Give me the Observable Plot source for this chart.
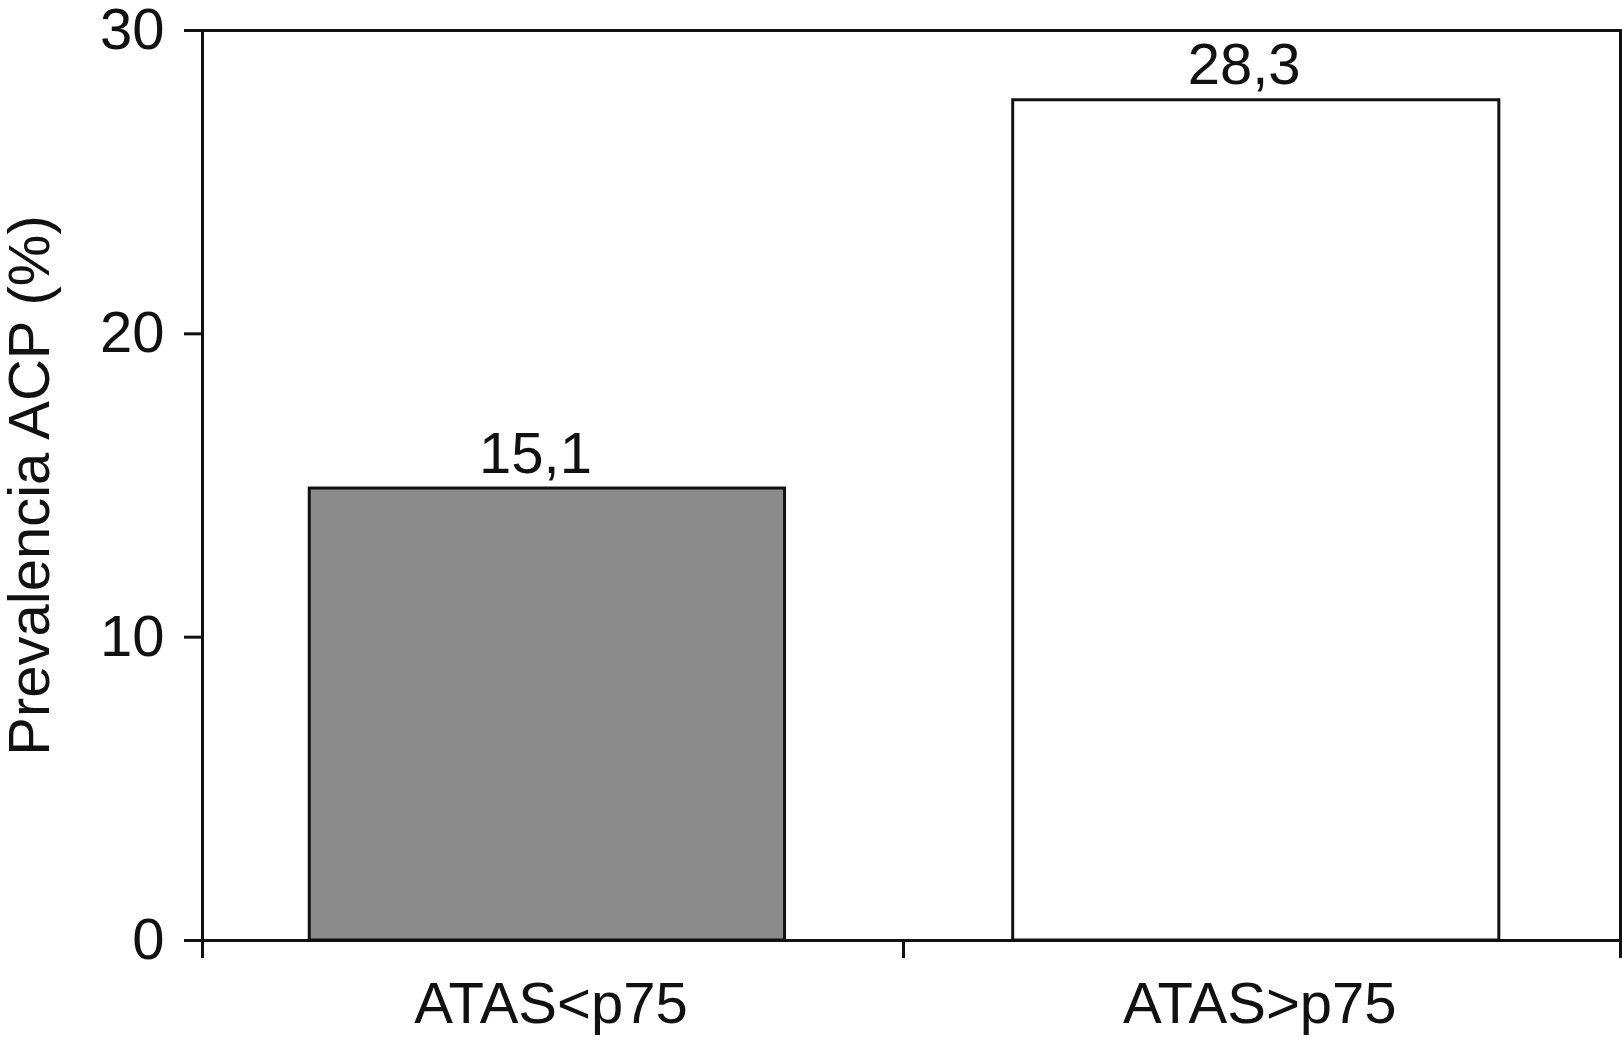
<!DOCTYPE html>
<html>
<head>
<meta charset="utf-8">
<script src="https://cdn.jsdelivr.net/npm/d3@7"></script>
<script src="https://cdn.jsdelivr.net/npm/@observablehq/plot@0.6"></script>
<style>
  html, body { margin: 0; padding: 0; background: #fff; }
  #chart svg { display: block; }
</style>
</head>
<body>
<div id="chart"></div>
<script>
// Data
const categories = ["ATAS<p75", "ATAS>p75"];
const barHeights = [14.9, 27.7];        // bar tops as drawn
const valueLabels = ["15,1", "28,3"];   // printed value labels
const barFills = ["#8b8b8b", "#ffffff"];
const yTicks = [0, 10, 20, 30];
const yLabel = "Prevalencia ACP (%)";

const data = categories.map((c, i) => ({
  cat: c, i, h: barHeights[i], label: valueLabels[i], fill: barFills[i]
}));

const W = 1622, mL = 202, mR = 2;
const chart = Plot.plot({
  width: W,
  height: 1040,
  marginTop: 30,
  marginBottom: 100,
  marginLeft: mL,
  marginRight: mR,
  style: { fontFamily: "'Liberation Sans', Arial, sans-serif", fontSize: "58px", color: "#111", background: "#fff" },
  // category slots: the middle divider sits a little left of centre in the original
  x: { type: "linear", domain: [0, 1, 2], range: [mL, 903, W - mR] },
  y: { domain: [0, 30] },
  marks: [
    Plot.rectY(data, {
      x1: d => d.i + 0.153, x2: d => d.i + 0.831, y1: 0, y2: "h",
      fill: "fill", stroke: "#111", strokeWidth: 3
    }),
    Plot.text(data, {
      x: d => d.i + 0.475, y: "h", text: "label", lineAnchor: "bottom", dy: -16,
      fontSize: 58, fill: "#111"
    }),
    Plot.frame({ stroke: "#111", strokeWidth: 3 }),
    Plot.axisY({
      ticks: yTicks, tickSize: 18, tickPadding: 20, strokeWidth: 3,
      fontSize: 58, label: yLabel, labelAnchor: "center", labelArrow: "none",
      labelOffset: 195
    }),
    Plot.axisX({
      ticks: d3.range(categories.length + 1), tickSize: 18, tickFormat: () => "",
      strokeWidth: 3, label: null
    }),
    Plot.axisX({
      ticks: categories.map((c, i) => i + 0.497), tickSize: 0, tickPadding: 41,
      tickFormat: v => categories[Math.floor(v)], fontSize: 58, label: null
    })
  ]
});
document.getElementById("chart").appendChild(chart);
</script>
</body>
</html>
